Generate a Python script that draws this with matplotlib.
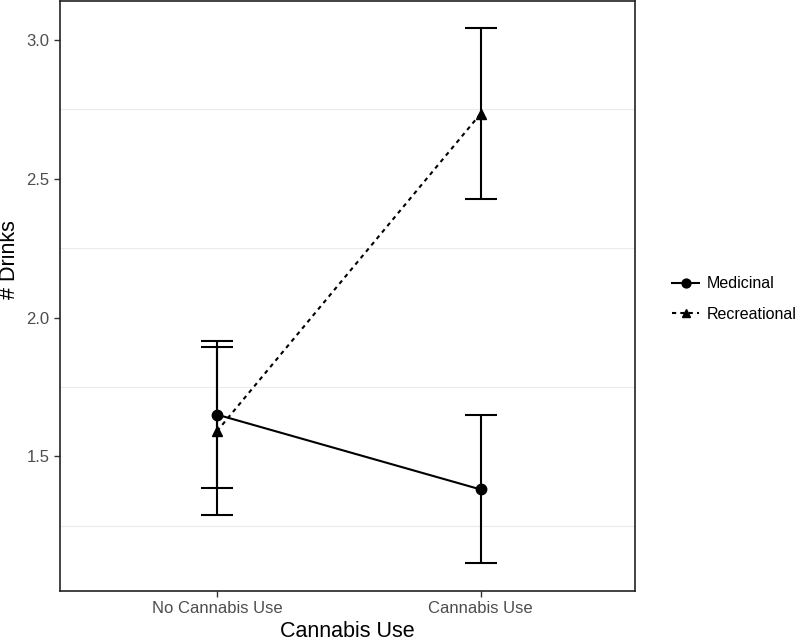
import numpy as np
import matplotlib.pyplot as plt

plt.rcParams['font.family'] = ['Liberation Sans', 'DejaVu Sans']

groups = ["No Cannabis Use", "Cannabis Use"]
med_mean = [1.65, 1.38]
med_lo = [1.384, 1.115]
med_hi = [1.915, 1.647]
rec_mean = [1.59, 2.735]
rec_lo = [1.288, 2.428]
rec_hi = [1.893, 3.042]

x = np.arange(1, len(groups) + 1)

fig = plt.figure(figsize=(8, 6.41), dpi=100)
ax = fig.add_axes([0.075, 0.078, 0.71875, 0.920])

for yy in [1.25, 1.75, 2.25, 2.75]:
    ax.axhline(yy, color='#ebebeb', lw=0.8, zorder=0)

def draw(mean, lo, hi, marker, ls, label):
    mean = np.array(mean)
    err = [mean - np.array(lo), np.array(hi) - mean]
    ax.errorbar(x, mean, yerr=err, fmt='none', ecolor='black', elinewidth=1.5,
                capsize=11.2, capthick=1.5, zorder=3)
    ax.plot(x, mean, color='black', ls=ls, lw=1.5, marker=marker, ms=7.5,
            label=label, zorder=4)

draw(med_mean, med_lo, med_hi, 'o', '-', 'Medicinal')
draw(rec_mean, rec_lo, rec_hi, '^', (0, (2, 2)), 'Recreational')

ax.set_xlim(0.405, 2.585)
ax.set_ylim(1.014, 3.14)
ax.set_xticks(x)
ax.set_xticklabels(groups)
ax.set_yticks([1.5, 2.0, 2.5, 3.0])
ax.set_yticklabels(['1.5', '2.0', '2.5', '3.0'])
ax.tick_params(labelsize=12, length=4, width=1, color='#333333')
for t in ax.get_xticklabels() + ax.get_yticklabels():
    t.set_color('#4d4d4d')
for s in ax.spines.values():
    s.set_linewidth(1.2)
    s.set_color('#222222')

ax.set_xlabel('Cannabis Use', fontsize=15.5, labelpad=3)
# y title sits a bit above the panel centre in the reference
fig.text(10 / 800, 1 - 260 / 641, '# Drinks', fontsize=15.5, rotation=90,
         ha='center', va='center')

handles, labels = ax.get_legend_handles_labels()
leg = fig.legend(handles, labels, loc='center left', bbox_to_anchor=(0.84, 0.5335),
                 frameon=False, fontsize=11.5, handlelength=1.7, handletextpad=0.45,
                 labelspacing=0.95, borderpad=0, borderaxespad=0, markerscale=0.85)

fig.savefig('out.png', dpi=100)
